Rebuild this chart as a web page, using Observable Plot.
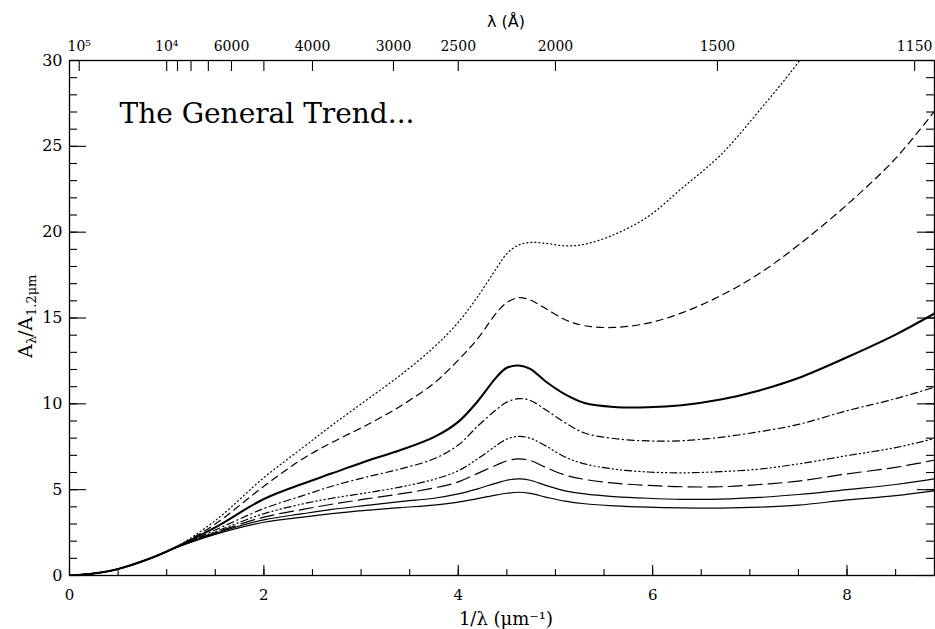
<!DOCTYPE html>
<html>
<head>
<meta charset="utf-8">
<script src="https://cdn.jsdelivr.net/npm/d3@7"></script>
<script src="https://cdn.jsdelivr.net/npm/@observablehq/plot@0.6"></script>
<style>
  html, body { margin: 0; padding: 0; background: #fff; overflow: hidden; }
</style>
</head>
<body>
<div id="chart"></div>
<script>
// ---- data ----
// x: inverse wavelength 1/λ in μm⁻¹
const waveNumber = [0, 0.25, 0.5, 0.833, 1.1, 1.5, 2.0, 2.4, 2.7, 3.05, 3.4, 3.75, 4.0, 4.2, 4.4, 4.5, 4.62, 4.74, 4.9, 5.1, 5.3, 5.6, 5.95, 6.3, 6.7, 7.1, 7.5, 8.0, 8.5, 8.9];

// A_λ / A_1.2μm for eight curves, top to bottom
const curveDotted   = [0, 0.12, 0.38, 1.0, 1.68, 3.2, 5.7, 7.45, 8.75, 10.2, 11.65, 13.3, 14.75, 16.25, 17.95, 18.75, 19.25, 19.4, 19.35, 19.2, 19.3, 19.85, 20.9, 22.55, 24.5, 27.1, 29.9, 33.8, 38.0, 41.5];
const curveDashed   = [0, 0.12, 0.38, 1.0, 1.67, 3.0, 5.2, 6.8, 7.75, 8.74, 9.85, 11.2, 12.55, 13.8, 15.35, 15.9, 16.18, 16.05, 15.55, 14.9, 14.55, 14.45, 14.7, 15.3, 16.3, 17.6, 19.25, 21.6, 24.3, 27.05];
const curveThick    = [0, 0.12, 0.38, 1.0, 1.66, 2.8, 4.46, 5.35, 5.95, 6.66, 7.3, 8.06, 8.95, 10.15, 11.6, 12.1, 12.23, 12.04, 11.3, 10.55, 10.05, 9.82, 9.8, 9.92, 10.25, 10.78, 11.5, 12.71, 14.03, 15.26];
const curveDashDot  = [0, 0.12, 0.38, 1.0, 1.65, 2.65, 3.9, 4.65, 5.2, 5.73, 6.2, 6.8, 7.6, 8.7, 9.7, 10.1, 10.3, 10.2, 9.65, 8.9, 8.3, 7.98, 7.84, 7.85, 8.05, 8.38, 8.8, 9.6, 10.3, 10.97];
const curveDash3Dot = [0, 0.12, 0.38, 1.0, 1.65, 2.55, 3.6, 4.17, 4.5, 4.81, 5.15, 5.6, 6.1, 6.8, 7.6, 7.95, 8.1, 8.0, 7.55, 6.9, 6.5, 6.2, 6.03, 5.98, 6.05, 6.2, 6.5, 6.98, 7.45, 7.98];
const curveLongDash = [0, 0.12, 0.38, 1.0, 1.64, 2.5, 3.4, 3.85, 4.15, 4.46, 4.75, 5.1, 5.45, 5.95, 6.45, 6.68, 6.79, 6.7, 6.3, 5.85, 5.6, 5.38, 5.25, 5.17, 5.17, 5.3, 5.5, 5.92, 6.3, 6.72];
const curveSolidA   = [0, 0.12, 0.38, 1.0, 1.64, 2.45, 3.24, 3.6, 3.85, 4.08, 4.3, 4.5, 4.75, 5.05, 5.4, 5.55, 5.63, 5.55, 5.25, 4.93, 4.75, 4.6, 4.5, 4.44, 4.45, 4.55, 4.72, 5.0, 5.3, 5.63];
const curveSolidB   = [0, 0.12, 0.38, 1.0, 1.63, 2.4, 3.1, 3.4, 3.6, 3.79, 3.95, 4.1, 4.27, 4.48, 4.7, 4.79, 4.85, 4.78, 4.57, 4.33, 4.18, 4.06, 3.98, 3.94, 3.93, 3.98, 4.1, 4.4, 4.65, 4.93];

const seriesNames = ["dotted", "dashed", "thick", "dashdot", "dash3dot", "longdash", "solidA", "solidB"];
const seriesValues = [curveDotted, curveDashed, curveThick, curveDashDot, curveDash3Dot, curveLongDash, curveSolidA, curveSolidB];

// axes
const yMajorTicks = [0, 5, 10, 15, 20, 25, 30];
const yMinorTicks = d3.range(0, 31, 1);
const xMajorTicks = [0, 2, 4, 6, 8];
const xMinorTicks = d3.range(0, 9, 0.5);
const topTickLambda = [100000, 10000, 9000, 8000, 7000, 6000, 5000, 4000, 3000, 2500, 2000, 1500, 1150]; // Å
const topLabelLambda = [100000, 10000, 6000, 4000, 3000, 2500, 2000, 1500, 1150];
const topTickLabels = ["10⁵", "10⁴", "6000", "4000", "3000", "2500", "2000", "1500", "1150"];

const titleText = "The General Trend...";
const xTitle = "1/λ (μm⁻¹)";
const topTitle = "λ (Å)";
// y title pieces: A, subscript λ, /A, subscript 1.2μm
const yTitleParts = ["A", "λ", "/A", "1.2μm"];

// ---- styles / layout ----
const W = 935, H = 629;
const M = {left: 69, right: 1, top: 60, bottom: 54};
const plotW = W - M.left - M.right;
const plotH = H - M.top - M.bottom;
const lineStyles = {
  dotted:   {strokeWidth: 1.2, strokeDasharray: "1,3"},
  dashed:   {strokeWidth: 1.2, strokeDasharray: "7,5"},
  thick:    {strokeWidth: 2.1, strokeDasharray: null},
  dashdot:  {strokeWidth: 1.2, strokeDasharray: "7,3.5,1.2,3.5"},
  dash3dot: {strokeWidth: 1.2, strokeDasharray: "7,3,1.2,3,1.2,3,1.2,3"},
  longdash: {strokeWidth: 1.2, strokeDasharray: "14,6"},
  solidA:   {strokeWidth: 1.2, strokeDasharray: null},
  solidB:   {strokeWidth: 1.2, strokeDasharray: null}
};
// position/size of each y-title piece (rotated text, reading upward)
const yTitleLayout = [
  {dx: -44, dy: 40, fontSize: 19},
  {dx: -38, dy: 26, fontSize: 13},
  {dx: -44, dy: 19, fontSize: 19},
  {dx: -38, dy: -2, fontSize: 13}
];

// ---- build table ----
const rows = [];
seriesNames.forEach((name, k) => {
  waveNumber.forEach((x, i) => rows.push({series: name, x, y: seriesValues[k][i]}));
});

// λ (Å) -> 1/λ (μm⁻¹)
const toWaveNumber = (lam) => 1e4 / lam;
const topTickX = topTickLambda.map(toWaveNumber);
const topLabelX = topLabelLambda.map(toWaveNumber);
const topFormat = (d) => {
  let best = 0;
  topLabelX.forEach((v, i) => { if (Math.abs(v - d) < Math.abs(topLabelX[best] - d)) best = i; });
  return topTickLabels[best];
};

const lineMarks = seriesNames.map((name) => Plot.line(rows.filter((r) => r.series === name), {
  x: "x", y: "y",
  stroke: "#000",
  strokeWidth: lineStyles[name].strokeWidth,
  strokeDasharray: lineStyles[name].strokeDasharray,
  curve: "catmull-rom",
  clip: true
}));

const serif = "DejaVu Serif";
const tickStyle = {stroke: "#000", strokeWidth: 1.1};

const yTitleMarks = yTitleParts.map((part, i) => Plot.text([part], {
  frameAnchor: "left",
  rotate: -90,
  textAnchor: "start",
  fontFamily: serif,
  ...yTitleLayout[i]
}));

const svg = Plot.plot({
  width: W,
  height: H,
  marginLeft: M.left,
  marginRight: M.right,
  marginTop: M.top,
  marginBottom: M.bottom,
  x: {domain: [0, 8.9]},
  y: {domain: [0, 30]},
  style: {fontFamily: serif, background: "#fff", color: "#000", overflow: "visible"},
  marks: [
    ...lineMarks,
    // inward tick marks: short rules anchored on one side of the frame
    Plot.ruleY(yMinorTicks, {y: (d) => d, insetRight: plotW - 8, ...tickStyle}),
    Plot.ruleY(yMajorTicks, {y: (d) => d, insetRight: plotW - 17, ...tickStyle}),
    Plot.ruleY(yMinorTicks, {y: (d) => d, insetLeft: plotW - 8, ...tickStyle}),
    Plot.ruleY(yMajorTicks, {y: (d) => d, insetLeft: plotW - 17, ...tickStyle}),
    Plot.ruleX(xMinorTicks, {x: (d) => d, insetTop: plotH - 6, ...tickStyle}),
    Plot.ruleX(xMajorTicks, {x: (d) => d, insetTop: plotH - 10, ...tickStyle}),
    Plot.ruleX(topTickX, {x: (d) => d, insetBottom: plotH - 11, ...tickStyle}),
    // tick labels
    Plot.axisY(yMajorTicks, {anchor: "left", tickSize: 0, tickPadding: 7, label: null, fontSize: 16, fontFamily: serif}),
    Plot.axisX(xMajorTicks, {anchor: "bottom", tickSize: 0, tickPadding: 14, label: null, fontSize: 15, fontFamily: serif}),
    Plot.axisX(topLabelX, {anchor: "top", tickSize: 0, tickPadding: 10, label: null, fontSize: 14, fontFamily: serif, tickFormat: topFormat}),
    Plot.frame({stroke: "#000", strokeWidth: 1.3}),
    // titles
    Plot.text([titleText], {frameAnchor: "top-left", dx: 50, dy: 43, textAnchor: "start", fontSize: 28, fontFamily: serif}),
    Plot.text([xTitle], {frameAnchor: "bottom", dx: 4, dy: 49, lineAnchor: "bottom", fontSize: 18, fontFamily: serif}),
    Plot.text([topTitle], {frameAnchor: "top", dx: 4, dy: -34, lineAnchor: "bottom", fontSize: 16, fontFamily: "DejaVu Sans"}),
    ...yTitleMarks
  ]
});

document.getElementById("chart").appendChild(svg);
</script>
</body>
</html>
